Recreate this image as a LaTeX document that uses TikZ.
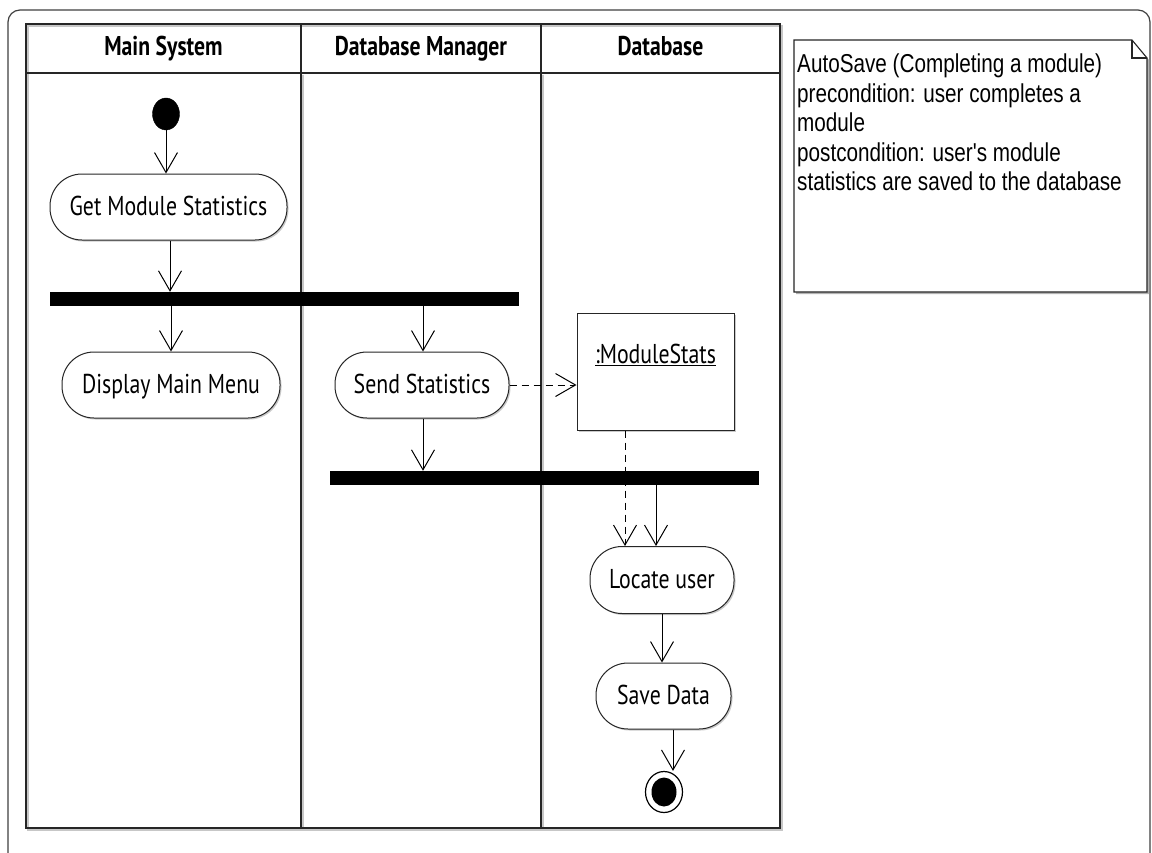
\documentclass[tikz,border=0pt]{standalone}
\usepackage{fontspec}
\setmainfont{PT Sans}
\newfontfamily\notefont{Liberation Sans}
\usetikzlibrary{arrows.meta,shadows,shapes.geometric}

% glyphs are set slightly taller than wide
\newcommand{\tallbox}[1]{\scalebox{1}[1.25]{#1}}

\begin{document}
\begin{tikzpicture}[x=1pt,y=-1pt,
  frame/.style={line width=1.2pt, draw=black!75, rounded corners=12pt},
  lanes/.style={line width=1.6pt, draw=black!85},
  laneshadow/.style={line width=1.6pt, draw=black!22},
  fixedline/.style={text height=20pt, text depth=4pt},
  head/.style={font=\fontsize{21.7}{24}\bfseries\selectfont, inner sep=0pt, fixedline},
  act/.style={draw=black!85, line width=1pt, rounded corners=32pt, fill=white,
    inner sep=0pt, font=\fontsize{21.8}{24}\selectfont, fixedline,
    drop shadow={shadow xshift=1.5pt, shadow yshift=-1.5pt, fill=black!35, opacity=0.6}},
  objbox/.style={draw=black!85, line width=1pt, fill=white, inner sep=0pt,
    drop shadow={shadow xshift=1.5pt, shadow yshift=-1.5pt, fill=black!35, opacity=0.6}},
  objlabel/.style={font=\fontsize{21.8}{24}\selectfont, inner sep=0pt, fixedline},
  forkbar/.style={fill=black, draw=none, inner sep=0pt},
  startnode/.style={ellipse, fill=black, draw=black, inner sep=0pt,
    minimum width=27pt, minimum height=32pt},
  endouter/.style={ellipse, fill=white, draw=black, line width=1.2pt, inner sep=0pt,
    minimum width=37pt, minimum height=41pt},
  endinner/.style={ellipse, fill=black, draw=none, inner sep=0pt,
    minimum width=25pt, minimum height=29pt},
  flow/.style={draw=black, line width=1pt,
    -{Straight Barb[length=20pt, width=23pt, line width=1pt]}},
  objflow/.style={flow, dashed, dash pattern=on 7pt off 5pt},
  notetext/.style={font=\fontsize{20.7}{23.6}\notefont, inner sep=0pt, anchor=north west, align=left},
]
\useasboundingbox (0,0) rectangle (1152,852);
\fill[white] (0,0) rectangle (1152,852);

% outer diagram frame
\draw[frame] (8,860) -- (8,10) -- (1150,10) -- (1150,860);

% swimlane table: soft shadow first, then the lines
\begin{scope}[shift={(2,2)}]
  \draw[laneshadow] (26,24) rectangle (780,828);
  \draw[laneshadow] (301,73) -- (301,828);
  \draw[laneshadow] (541,73) -- (541,828);
\end{scope}
\draw[lanes] (26,24) rectangle (780,828);
\draw[lanes] (26,73) -- (780,73);
\draw[lanes] (301,24) -- (301,828);
\draw[lanes] (541,24) -- (541,828);

\node[head] (h1) at (163.5,47) {\tallbox{Main System}};
\node[head] (h2) at (421,47) {\tallbox{Database Manager}};
\node[head] (h3) at (660.5,47) {\tallbox{Database}};

% note with folded corner
\fill[black!30] (796,42) -- (1134,42) -- (1149,60) -- (1149,294) -- (796,294) -- cycle;
\draw[line width=1.1pt, draw=black!85, fill=white]
  (794,40) -- (1132,40) -- (1147,58) -- (1147,292) -- (794,292) -- cycle;
\draw[line width=1.1pt, draw=black!85] (1132,40) -- (1132,58) -- (1147,58);
\node[notetext] (note) at (797,52) {\tallbox{\begin{tabular}{@{}l@{}}
AutoSave (Completing a module)\\
precondition: user completes a\\
module\\
postcondition: user's module\\
statistics are saved to the database
\end{tabular}}};

% activity nodes
\node[startnode] (start) at (166,114) {};
\node[act, minimum width=237pt, minimum height=66pt] (gms) at (168.5,207) {\tallbox{Get Module Statistics}};
\node[forkbar, minimum width=469pt, minimum height=14pt] (f1) at (284.5,299) {};
\node[act, minimum width=218pt, minimum height=66pt] (dmm) at (171,385) {\tallbox{Display Main Menu}};
\node[act, minimum width=174pt, minimum height=66pt] (send) at (422,385) {\tallbox{Send Statistics}};
\node[objbox, minimum width=157pt, minimum height=117pt] (stats) at (655.5,371.5) {};
\node[objlabel] (statsl) at (655.5,355) {\tallbox{\underline{:ModuleStats}}};
\node[forkbar, minimum width=429pt, minimum height=14pt] (f2) at (544.5,478) {};
\node[act, minimum width=144pt, minimum height=67pt] (loc) at (662,580) {\tallbox{Locate user}};
\node[act, minimum width=135pt, minimum height=66pt] (save) at (663.5,696) {\tallbox{Save Data}};
\node[endouter] (fin) at (664,792) {};
\node[endinner] (fincore) at (fin) {};

% control flows
\draw[flow] (start.south) -- (start.south |- gms.north);
\draw[flow] ([xshift=1.5pt]gms.south) -- ([xshift=1.5pt]gms.south |- f1.north);
\draw[flow] (dmm.north |- f1.south) -- (dmm.north);
\draw[flow] ([xshift=1pt]send.north |- f1.south) -- ([xshift=1pt]send.north);
\draw[flow] ([xshift=1pt]send.south) -- ([xshift=1pt]send.south |- f2.north);
\draw[flow] ([xshift=-6pt]loc.north |- f2.south) -- ([xshift=-6pt]loc.north);
\draw[flow] (loc.south) -- (loc.south |- save.north);
\draw[flow] ([xshift=9.5pt]save.south) -- ([xshift=9.5pt]save.south |- fin.north);

% object flows
\draw[objflow] (send.east) -- (stats.west |- send.east);
\draw[objflow] ([xshift=-30.5pt]stats.south) -- ([xshift=-30.5pt]stats.south |- loc.north);
\end{tikzpicture}
\end{document}
